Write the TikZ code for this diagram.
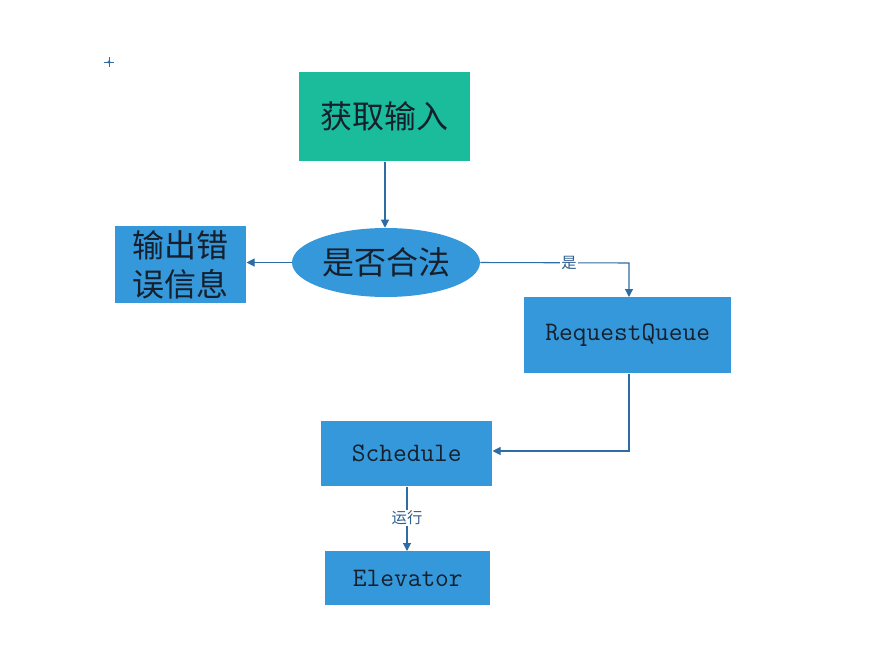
\documentclass[tikz,border=0pt]{standalone}
\usepackage{fontspec}
\newfontfamily\cjk{Noto Sans CJK SC}
\usetikzlibrary{shapes.geometric,arrows.meta}
\definecolor{boxblue}{HTML}{3498DB}
\definecolor{boxteal}{HTML}{1ABC9C}
\definecolor{linec}{HTML}{2E6DA4}
\definecolor{txt}{HTML}{16202C}
\definecolor{lbl}{HTML}{2F5F8F}
\tikzset{
  box/.style={draw=none, fill=boxblue, text=txt, inner sep=0pt, anchor=north west},
  cjkbig/.style={font=\cjk\fontsize{24}{29}\selectfont},
  monot/.style={font=\ttfamily\fontsize{20}{23}\selectfont},
  conn/.style={draw=linec, line width=0.8pt, -{Triangle[length=6pt,width=6pt]}},
  lab/.style={font=\cjk\fontsize{11.5}{13}\selectfont, text=lbl, fill=white, inner sep=1pt}
}
\begin{document}
\begin{tikzpicture}[x=0.75pt,y=-0.75pt]
\useasboundingbox (0,0) rectangle (894,668);
\fill[white] (0,0) rectangle (894,668);
% small cross mark
\draw[linec, line width=0.7pt] (104,62) -- (114,62) (109,57) -- (109,67);
\fill[linec] (109,62) circle (1.2pt);
% nodes
\node[box, fill=boxteal, minimum width=171*0.75pt, minimum height=89*0.75pt, cjkbig] (get) at (299,72) {获取输入};
\node[ellipse, fill=boxblue, draw=none, text=txt, minimum width=188*0.75pt, minimum height=69*0.75pt, inner sep=0pt, cjkbig] (ok) at (386,262.5) {是否合法};
\node[box, minimum width=131*0.75pt, minimum height=77*0.75pt, cjkbig, align=center] (err) at (115,226) {\baselineskip=30pt 输出错\\误信息};
\node[box, minimum width=207*0.75pt, minimum height=76*0.75pt, monot] (rq) at (524,297) {RequestQueue};
\node[box, minimum width=171*0.75pt, minimum height=65*0.75pt, monot] (sch) at (321,421) {Schedule};
\node[box, minimum width=165*0.75pt, minimum height=54*0.75pt, monot] (elev) at (325,551) {Elevator};
% connectors
\coordinate (c1) at (629,263);
\coordinate (c2) at (629,451);
\draw[conn] (get.south -| 385,0) -- (ok.north -| 385,0);
\draw[conn] (ok.west) -- (err.east |- ok.west);
\draw[conn] (ok.east) -- (c1) -- (rq.north -| c1);
\node[lab] (yes) at (569,263) {是};
\draw[conn] (rq.south -| c1) -- (c2) -- (sch.east |- c2);
\draw[conn] (sch.south -| 407,0) -- (elev.north -| 407,0);
\node[lab] (run) at (407,518) {运行};
\end{tikzpicture}
\end{document}
